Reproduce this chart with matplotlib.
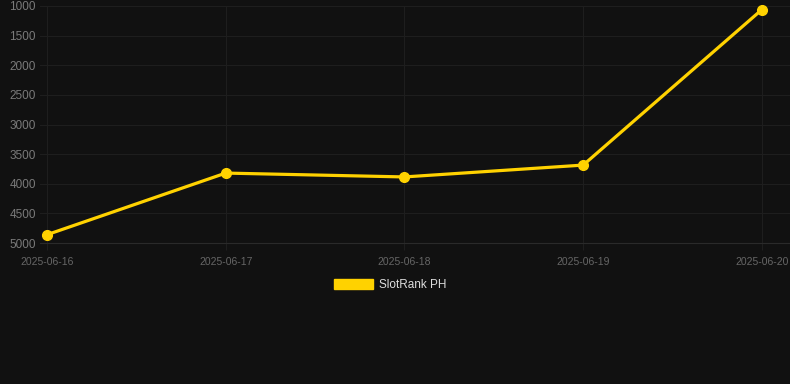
import matplotlib
matplotlib.use("Agg")
import matplotlib.pyplot as plt
import matplotlib.dates as mdates
from matplotlib.patches import Patch
import datetime as dt

dates = ["2025-06-16", "2025-06-17", "2025-06-18", "2025-06-19", "2025-06-20"]
ranks = [4860, 3820, 3885, 3685, 1060]
series_name = "SlotRank PH"
y_ticks = [1000, 1500, 2000, 2500, 3000, 3500, 4000, 4500, 5000]

plt.rcParams['font.family'] = ['Liberation Sans', 'DejaVu Sans']

BG = "#111111"
GOLD = "#FFD200"

fig = plt.figure(figsize=(7.90, 3.84), dpi=100, facecolor=BG)
ax = fig.add_axes([40/790, 141/384, 750/790, 237/384], facecolor=BG)

xd = [mdates.date2num(dt.datetime.strptime(d, "%Y-%m-%d")) for d in dates]
ax.plot(xd, ranks, color=GOLD, lw=2.3, marker='o', ms=7, zorder=3, clip_on=False)

ax.set_ylim(5000, 1000)
ax.set_yticks(y_ticks)
ax.set_yticklabels([str(v) for v in y_ticks])
ax.set_xticks(xd)
ax.set_xticklabels(dates)
ax.set_xlim(xd[0] - 0.039, xd[-1] + 0.157)

ax.grid(True, color="#1e1e1e", lw=0.8)
ax.set_axisbelow(True)
for s in ["top", "right", "left"]:
    ax.spines[s].set_visible(False)
ax.spines["bottom"].set_color("#2a2a2a")
ax.spines["bottom"].set_linewidth(0.8)

ax.tick_params(axis='y', length=0, pad=3, labelsize=8.5, labelcolor="#7a7a7a")
ax.tick_params(axis='x', length=5, color="#1e1e1e", pad=5, labelsize=7.5, labelcolor="#666666")

handle = Patch(facecolor=GOLD, edgecolor=GOLD)
fig.legend([handle], [series_name], loc='center', bbox_to_anchor=(390/790, 1 - 285/384),
           frameon=False, fontsize=8.5, labelcolor="#dddddd",
           handlelength=3.3, handleheight=1.0, handletextpad=0.55, borderpad=0)

fig.savefig("out.png", dpi=100, facecolor=BG)
